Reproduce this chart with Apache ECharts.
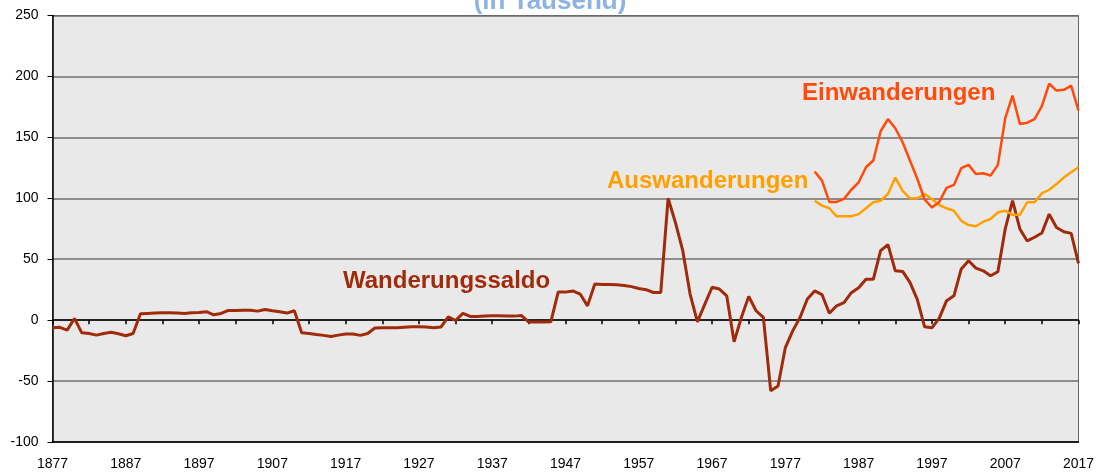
<!DOCTYPE html>
<html>
<head>
<meta charset="utf-8">
<script src="https://cdn.jsdelivr.net/npm/echarts@6/dist/echarts.min.js"></script>
<style>
  html, body { margin: 0; padding: 0; background: #fff; }
  #chart { width: 1103px; height: 472px; }
</style>
</head>
<body>
<div id="chart"></div>
<script>
// years on the x axis
const firstYear = 1877
const lastYear = 2017
const years = []
for (let y = firstYear; y <= lastYear; y++) years.push(String(y))

// Wanderungssaldo, one value per year 1877..2017 (in Tausend)
const saldo = [
  -6.3, -5.9, -8.2, 1.4, -10.4, -11, -12.3, -11, -10, -11.2,        // 1877-1886
  -12.8, -11, 5.2, 5.5, 5.8, 6.1, 6.1, 5.8, 5.5, 6.1,               // 1887-1896
  6.3, 6.9, 4.4, 5.5, 8, 8, 8.2, 8.2, 7.4, 8.7,                     // 1897-1906
  7.7, 6.9, 5.8, 7.7, -10.4, -11, -11.8, -12.5, -13.4, -12.3,       // 1907-1916
  -11.4, -11.4, -12.5, -11, -6.5, -6.3, -6.3, -6.3, -5.9, -5.5,     // 1917-1926
  -5.5, -5.7, -6.3, -5.7, 2.7, -0.3, 5.5, 3, 3, 3.3,                // 1927-1936
  3.6, 3.6, 3.3, 3.3, 3.8, -1.6, -1.6, -1.6, -1.4, 23,              // 1937-1946
  23, 24, 21.4, 11.7, 29.6, 29.3, 29.3, 29, 28.5, 27.5,             // 1947-1956
  26, 25, 22.7, 22.7, 100, 80, 57, 21.4, -1.4, 13,                  // 1957-1966
  27, 25.5, 20, -17.8, 2.2, 19.5, 7.7, 2.2, -58, -54,               // 1967-1976
  -22.5, -8.8, 2.2, 17.3, 24, 21, 5.6, 11.8, 14.3, 22.5,            // 1977-1986
  26.5, 33.5, 33.5, 57, 62, 40.5, 40, 31, 17, -5.5,                 // 1987-1996
  -6.3, 1.7, 16, 20, 42, 48.7, 42.7, 40.5, 36.4, 39.7,              // 1997-2006
  74.8, 98, 74.8, 65, 68, 71.5, 87, 76, 72.5, 71.2,                 // 2007-2016
  46.6                                                              // 2017
]

// Ein- und Auswanderungen, 1981..2017
const flowStart = 1981
const einwanderungen = [
  122, 114.5, 97, 97, 99.5, 107, 113, 125.5, 131, 155,
  165, 157.5, 146, 131, 116, 99, 92.5, 97, 108.5, 111,
  124.7, 127.4, 120, 120.5, 118.6, 127.4, 165.7, 184.3, 161, 162,
  165, 175.6, 194, 188.4, 189, 192.5, 172
]
const auswanderungen = [
  98, 94, 91.8, 85.2, 85.2, 85.2, 87, 91.8, 96.7, 98,
  103.5, 117, 106, 100, 100, 103.5, 99.4, 94.5, 91.8, 89.8,
  81.6, 78, 77, 80.8, 83, 88.5, 89.8, 86.5, 86.5, 96.7,
  96.7, 104, 107, 111.7, 117, 121.4, 125.5
]

const padFlow = arr => years.map(y => {
  const i = Number(y) - flowStart
  return i >= 0 && i < arr.length ? arr[i] : null
})

const axisFont = { fontFamily: '"Liberation Sans", Arial, sans-serif', fontSize: 14, color: '#000' }
const labelFont = 'bold 24px "Liberation Sans", Arial, sans-serif'

const myChart = echarts.init(document.getElementById('chart'))
const option = {
  animation: false,
  grid: {
    left: 52.5,
    right: 24.5,
    top: 15.5,
    bottom: 30,
    show: true,
    backgroundColor: '#e9e9e9',
    borderColor: '#666',
    borderWidth: 1
  },
  xAxis: [{
    type: 'category',
    data: years,
    boundaryGap: false,
    position: 'bottom',
    axisLine: { onZero: false, lineStyle: { color: '#000', width: 1.5 } },
    axisTick: { show: false },
    axisLabel: Object.assign({ interval: 9, margin: 15 }, axisFont),
    splitLine: { show: false }
  }, {
    type: 'category',
    data: years,
    boundaryGap: false,
    position: 'bottom',
    axisLine: { onZero: true, lineStyle: { color: '#000', width: 1.5 } },
    axisTick: { show: true, interval: 4, length: 4, lineStyle: { color: '#000', width: 1.5 } },
    axisLabel: { show: false },
    splitLine: { show: false }
  }],
  yAxis: {
    type: 'value',
    min: -100,
    max: 250,
    interval: 50,
    axisLine: { show: true, lineStyle: { color: '#000', width: 1.5 } },
    axisTick: { show: true, length: 5, lineStyle: { color: '#000', width: 1 } },
    axisLabel: Object.assign({ margin: 14 }, axisFont),
    splitLine: { lineStyle: { color: '#6e6e6e', width: 1.5 } }
  },
  series: [{
    name: 'Wanderungssaldo',
    type: 'line',
    data: saldo,
    symbol: 'none',
    lineStyle: { color: '#a02b0b', width: 3 }
  }, {
    name: 'Auswanderungen',
    type: 'line',
    data: padFlow(auswanderungen),
    symbol: 'none',
    lineStyle: { color: '#ffa000', width: 2.5 }
  }, {
    name: 'Einwanderungen',
    type: 'line',
    data: padFlow(einwanderungen),
    symbol: 'none',
    lineStyle: { color: '#ff4a0a', width: 2.5 }
  }],
  graphic: [
    { type: 'text', style: { text: '(in Tausend)', x: 550, y: 2, font: 'bold 26px "Liberation Sans", Arial, sans-serif', fill: '#8db3e2', textAlign: 'center', textVerticalAlign: 'middle' } },
    { type: 'text', style: { text: 'Einwanderungen', x: 802, y: 93.5, font: labelFont, fill: '#ff4a0a', textAlign: 'left', textVerticalAlign: 'middle' } },
    { type: 'text', style: { text: 'Auswanderungen', x: 607, y: 181, font: labelFont, fill: '#ffa000', textAlign: 'left', textVerticalAlign: 'middle' } },
    { type: 'text', style: { text: 'Wanderungssaldo', x: 343, y: 281.5, font: labelFont, fill: '#a02b0b', textAlign: 'left', textVerticalAlign: 'middle' } }
  ]
}
myChart.setOption(option)
</script>
</body>
</html>
